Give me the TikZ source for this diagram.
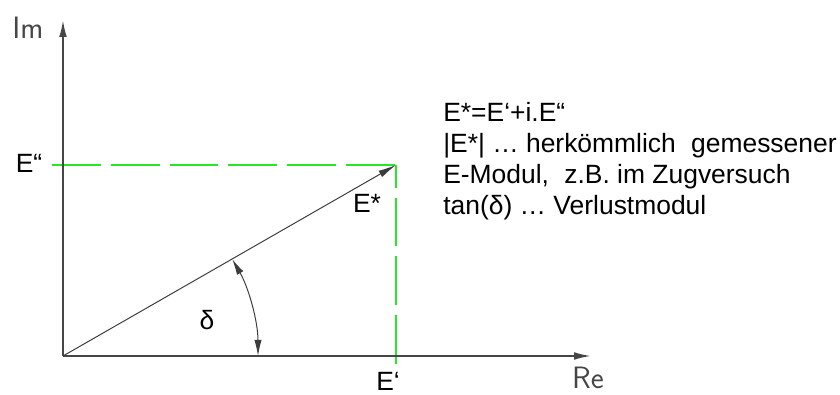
\documentclass[tikz,border=0pt]{standalone}
\usepackage{fontspec}
\setmainfont{Liberation Sans}
\usepackage{xcolor}
\definecolor{axisgray}{RGB}{70,70,70}
\definecolor{vecgray}{RGB}{60,60,60}
\definecolor{dashgreen}{RGB}{40,230,40}
\usepackage{tikz}
\usetikzlibrary{arrows.meta, positioning, calc}

\begin{document}
\begin{tikzpicture}[
        x=0.025cm, y=0.025cm,
        axis/.style={draw=axisgray, line width=1.3pt, -{Latex[length=4.2mm, width=1.9mm]}},
        vec/.style={draw=vecgray, line width=0.7pt, -{Latex[length=4.5mm, width=1.8mm]}},
        helper/.style={draw=dashgreen, line width=1.2pt, dash pattern=on 34.7pt off 7.1pt},
        axlabel/.style={font=\sffamily\fontsize{22}{24}\selectfont, text=axisgray, inner sep=0pt},
        lbl/.style={font=\fontsize{18.8}{22}\selectfont, inner sep=0pt}
    ]
        \useasboundingbox (-63,-38) rectangle (777,356);

        \coordinate (O) at (0,0);
        \coordinate (imtip) at (0,336);
        \coordinate (retip) at (528,0);
        \coordinate (P) at (333,191);
        \coordinate (hstart) at (-11,191);
        \coordinate (vend) at (333,-8);

        % helper lines
        \draw[helper] (hstart) -- (P);
        \draw[helper] (vend) -- (P);

        % axes
        \draw[axis] (O) -- (imtip);
        \draw[axis] (O) -- (retip);

        % E* vector and angle
        \draw[vec] (O) -- (P);
        \draw[draw=vecgray, line width=0.7pt, {Latex[length=4mm, width=1.8mm]}-{Latex[length=4mm, width=1.8mm]}]
            ($(O)+(195,0)$) arc[start angle=0, end angle=29.8, radius=195];

        \node[axlabel] (im) at (-35,328) {Im};
        \node[axlabel] (re) at (525,-22) {Re};
        \node[lbl] (epp) at (-34,193) {E“};
        \node[lbl] (ep) at (325,-25) {E‘};
        \node[lbl] (estar) at (304,153) {E*};
        \node[lbl] (delta) at (144,36) {δ};

        \node[lbl, anchor=north west, align=left] (legend) at (380,254)
            {E*=E‘+i.E“\\
             |E*| … herkömmlich\hspace{0.3em} gemessener\\
             E-Modul,\hspace{0.3em} z.B. im Zugversuch\\
             tan(δ) … Verlustmodul};
    \end{tikzpicture}
\end{document}
